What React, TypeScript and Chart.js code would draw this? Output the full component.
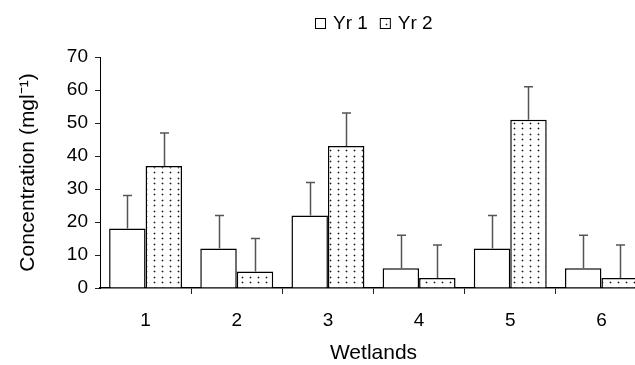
import React, { useEffect, useRef } from "react";
import { Chart, registerables } from "chart.js";

Chart.register(...registerables);

const wetlands = ["1", "2", "3", "4", "5", "6"];
const yr1 = [18, 12, 22, 6, 12, 6];
const yr2 = [37, 5, 43, 3, 51, 3];
const yr1Err = [10, 10, 10, 10, 10, 10];
const yr2Err = [10, 10, 10, 10, 10, 10];
const seriesLabels = ["Yr 1", "Yr 2"];
const yMin = 0;
const yMax = 70;
const yStep = 10;
const xTitle = "Wetlands";
const yTitle = "Concentration (mgl\u207B\u00B9)";

const FONT = '"Liberation Sans", Arial, sans-serif';

function makeDotPattern(): CanvasPattern | string {
  const c = document.createElement("canvas");
  c.width = 8;
  c.height = 11;
  const g = c.getContext("2d");
  if (!g) return "#fff";
  g.fillStyle = "#ffffff";
  g.fillRect(0, 0, 8, 11);
  const dot = (x: number, y: number) => {
    g.fillStyle = "#b0b0b0";
    g.fillRect(x - 1, y, 3, 1);
    g.fillRect(x, y - 1, 1, 3);
    g.fillStyle = "#1a1a1a";
    g.fillRect(x, y, 1, 1);
  };
  dot(2, 2);
  dot(2, 7);
  const p = g.createPattern(c, "repeat");
  return p || "#fff";
}

const errorBarPlugin = {
  id: "errorBars",
  afterDatasetsDraw(chart: any) {
    const ctx = chart.ctx;
    const yScale = chart.scales.y;
    const errs = [yr1Err, yr2Err];
    ctx.save();
    ctx.strokeStyle = "#555";
    ctx.lineWidth = 1.5;
    chart.data.datasets.forEach((ds: any, di: number) => {
      const meta = chart.getDatasetMeta(di);
      meta.data.forEach((bar: any, i: number) => {
        const v = ds.data[i] + errs[di][i];
        const yTop = yScale.getPixelForValue(v);
        const x = Math.round(bar.x) + 0.5;
        ctx.beginPath();
        ctx.moveTo(x, bar.y);
        ctx.lineTo(x, yTop);
        ctx.moveTo(x - 4.5, yTop);
        ctx.lineTo(x + 4.5, yTop);
        ctx.stroke();
      });
    });
    ctx.restore();
  },
};

const legendPlugin = {
  id: "customLegend",
  afterDraw(chart: any) {
    const ctx = chart.ctx;
    const area = chart.chartArea;
    ctx.save();
    ctx.font = `19px ${FONT}`;
    ctx.textBaseline = "middle";
    ctx.textAlign = "left";
    const box = 11;
    const gapText = 7;
    const gapItems = 12;
    const items = chart.data.datasets.map((ds: any) => ({
      ds,
      w: box + gapText + ctx.measureText(ds.label).width,
    }));
    const total =
      items.reduce((s: number, it: any) => s + it.w, 0) + gapItems * (items.length - 1);
    let x = Math.round((area.left + area.right) / 2 - total / 2);
    const yBox = 18;
    items.forEach((it: any) => {
      ctx.fillStyle = it.ds.backgroundColor;
      ctx.fillRect(x, yBox, box, box);
      ctx.strokeStyle = "#000";
      ctx.lineWidth = 1;
      ctx.strokeRect(x + 0.5, yBox + 0.5, box - 1, box - 1);
      ctx.fillStyle = "#000";
      ctx.fillText(it.ds.label, x + box + gapText, 24);
      x += it.w + gapItems;
    });
    ctx.restore();
  },
};

export default function App() {
  const ref = useRef<HTMLCanvasElement | null>(null);

  useEffect(() => {
    document.body.style.margin = "0";
    if (!ref.current) return;
    const pattern = makeDotPattern();
    const chart = new Chart(ref.current, {
      type: "bar",
      data: {
        labels: wetlands,
        datasets: [
          {
            label: seriesLabels[0],
            data: yr1,
            backgroundColor: "#ffffff",
            borderColor: "#000",
            borderWidth: 1.5,
            categoryPercentage: 0.8,
            barPercentage: 1.0,
          },
          {
            label: seriesLabels[1],
            data: yr2,
            backgroundColor: pattern as any,
            borderColor: "#000",
            borderWidth: 1.5,
            categoryPercentage: 0.8,
            barPercentage: 1.0,
          },
        ],
      },
      options: {
        responsive: false,
        animation: false,
        events: [],
        layout: { padding: { top: 57, left: 0, right: 13, bottom: 0 } },
        plugins: {
          legend: { display: false },
          tooltip: { enabled: false },
        },
        scales: {
          x: {
            afterFit: (s: any) => {
              s.height = 77;
            },
            border: { color: "#000", width: 1.5 },
            grid: {
              offset: true,
              drawOnChartArea: false,
              tickLength: 6,
              color: (c: any) => (c.index === 0 ? "rgba(0,0,0,0)" : "#222"),
            },
            ticks: {
              color: "#000",
              font: { family: FONT, size: 19 },
              padding: 15,
            },
            title: {
              display: true,
              text: xTitle,
              color: "#000",
              font: { family: FONT, size: 21, lineHeight: 1 },
              padding: { top: 0, bottom: 1 },
            },
          },
          y: {
            min: yMin,
            max: yMax,
            afterFit: (s: any) => {
              s.width = 100;
            },
            border: { color: "#000", width: 1 },
            grid: {
              drawOnChartArea: false,
              tickLength: 5,
              color: "#222",
            },
            ticks: {
              stepSize: yStep,
              color: "#000",
              font: { family: FONT, size: 19 },
              padding: 7,
            },
            title: {
              display: true,
              text: yTitle,
              color: "#000",
              font: { family: FONT, size: 21, lineHeight: 1 },
              padding: { top: 18, bottom: 0 },
            },
          },
        },
      },
      plugins: [errorBarPlugin, legendPlugin],
    });
    return () => chart.destroy();
  }, []);

  return (
    <div
      style={{
        position: "absolute",
        left: 0,
        top: 0,
        width: 635,
        height: 365,
        overflow: "hidden",
        background: "#fff",
      }}
    >
      <canvas ref={ref} width={660} height={365} style={{ display: "block" }} />
    </div>
  );
}
